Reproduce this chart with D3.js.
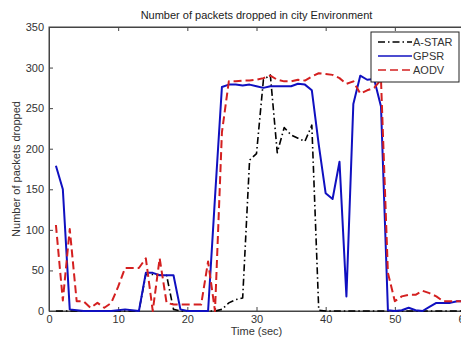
<!DOCTYPE html>
<html>
<head>
<meta charset="utf-8">
<script src="https://cdn.jsdelivr.net/npm/d3@7"></script>
<style>
  body { margin: 0; background: #fff; }
  svg { display: block; font-family: "Liberation Sans", Arial, sans-serif; }
</style>
</head>
<body>
<svg id="chart" width="461" height="338"></svg>
<script>
// time in seconds, one sample per second
var times = d3.range(1, 61);

var astar = [0, 0, 0, 0, 0, 0, 0, 0, 0, 0,
  0, 0, 0, 45, 45, 44, 44, 2, 0, 0,
  0, 0, 0, 0, 2, 10, 14, 16, 186, 194,
  285, 291, 195, 226, 217, 213, 209, 229, 1, 0,
  0, 0, 0, 0, 0, 0, 0, 0, 0, 0,
  0, 0, 0, 0, 0, 0, 0, 0, 0, 0];

var gpsr = [179, 150, 2, 1, 0, 0, 0, 0, 0, 1,
  2, 1, 0, 47, 47, 44, 44, 44, 2, 0,
  0, 0, 0, 140, 276, 279, 279, 278, 279, 277,
  275, 277, 277, 277, 277, 280, 279, 272, 205, 145,
  138, 184, 18, 255, 290, 285, 286, 252, 1, 0,
  1, 4, 1, 0, 5, 10, 10, 10, 12, 12];

var aodv = [106, 13, 101, 12, 12, 4, 10, 4, 10, 30,
  53, 53, 53, 65, 0, 65, 10, 8, 8, 8,
  8, 8, 61, 0, 220, 283, 283, 284, 284, 285,
  287, 290, 285, 283, 283, 285, 284, 289, 293, 292,
  291, 287, 280, 283, 268, 272, 275, 285, 47, 12,
  18, 20, 20, 25, 22, 18, 12, 12, 12, 12];

var seriesNames = ["A-STAR", "GPSR", "AODV"];
var xTicks = [0, 10, 20, 30, 40, 50, 60];
var yTicks = [0, 50, 100, 150, 200, 250, 300, 350];

var styles = {
  "A-STAR": { color: "#000000", width: 1.6, dash: "7,3,1.5,3" },
  "GPSR": { color: "#1010c0", width: 2, dash: null },
  "AODV": { color: "#d42020", width: 2, dash: "8,4" }
};

var svg = d3.select("#chart");
var margin = { top: 27, left: 49 };
var plotW = 415, plotH = 284;

var x = d3.scaleLinear().domain([0, 60]).range([margin.left, margin.left + plotW]);
var y = d3.scaleLinear().domain([0, 350]).range([margin.top + plotH, margin.top]);

// plot box
svg.append("rect")
  .attr("x", margin.left).attr("y", margin.top)
  .attr("width", plotW).attr("height", plotH)
  .attr("fill", "#fff").attr("stroke", "#444").attr("stroke-width", 1);

// ticks, bottom and top point inward
var xAxis = svg.append("g").attr("transform", `translate(0,${margin.top + plotH})`)
  .call(d3.axisBottom(x).tickValues(xTicks).tickSizeInner(-4).tickSizeOuter(0).tickPadding(4));
var xTop = svg.append("g").attr("transform", `translate(0,${margin.top})`)
  .call(d3.axisTop(x).tickValues(xTicks).tickSizeInner(-4).tickSizeOuter(0).tickFormat(""));
var yAxis = svg.append("g").attr("transform", `translate(${margin.left},0)`)
  .call(d3.axisLeft(y).tickValues(yTicks).tickSizeInner(-4).tickSizeOuter(0).tickPadding(5));

[xAxis, xTop, yAxis].forEach(function (g) {
  g.select(".domain").attr("stroke", "#444");
  g.selectAll(".tick line").attr("stroke", "#444");
  g.selectAll("text").attr("font-size", 11).attr("fill", "#333")
    .attr("font-family", "Liberation Sans, Arial, sans-serif");
});

var line = d3.line()
  .x(function (d) { return x(d[0]); })
  .y(function (d) { return y(d[1]); });

var seriesData = { "A-STAR": astar, "GPSR": gpsr, "AODV": aodv };

seriesNames.forEach(function (name) {
  var st = styles[name];
  var pts = times.map(function (t, i) { return [t, seriesData[name][i]]; });
  svg.append("path")
    .datum(pts)
    .attr("d", line)
    .attr("fill", "none")
    .attr("stroke", st.color)
    .attr("stroke-width", st.width)
    .attr("stroke-dasharray", st.dash)
    .attr("stroke-linejoin", "round");
});

// title and labels
svg.append("text")
  .attr("x", x(30)).attr("y", 19)
  .attr("text-anchor", "middle").attr("font-size", 11).attr("fill", "#222")
  .text("Number of packets dropped in city Environment");

svg.append("text")
  .attr("x", x(30)).attr("y", 335)
  .attr("text-anchor", "middle").attr("font-size", 11).attr("fill", "#333")
  .text("Time (sec)");

svg.append("text")
  .attr("transform", `translate(20,${margin.top + plotH / 2}) rotate(-90)`)
  .attr("text-anchor", "middle").attr("font-size", 11).attr("fill", "#333")
  .text("Number of packets dropped");

// legend
var legend = svg.append("g").attr("transform", "translate(371,32)");
legend.append("rect")
  .attr("width", 88).attr("height", 50)
  .attr("fill", "#fff").attr("stroke", "#222").attr("stroke-width", 1);

seriesNames.forEach(function (name, i) {
  var st = styles[name];
  var ly = 10 + i * 14;
  legend.append("line")
    .attr("x1", 7).attr("x2", 41).attr("y1", ly).attr("y2", ly)
    .attr("stroke", st.color)
    .attr("stroke-width", 1.6)
    .attr("stroke-dasharray", st.dash);
  legend.append("text")
    .attr("x", 42).attr("y", ly + 4)
    .attr("font-size", 11).attr("fill", "#333")
    .text(name);
});
</script>
</body>
</html>
